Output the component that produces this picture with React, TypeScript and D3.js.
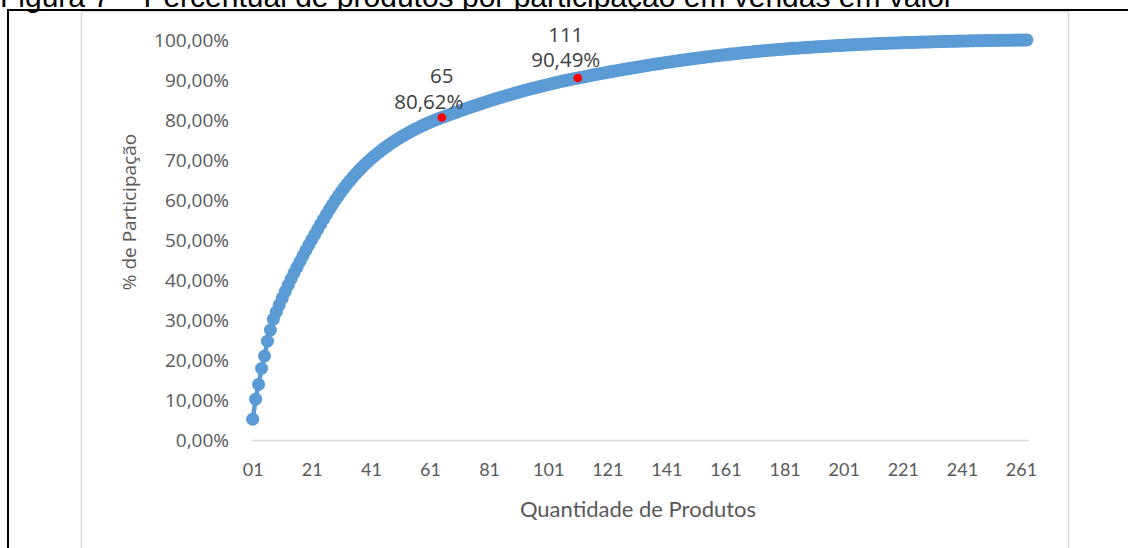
import { useEffect, useRef } from "react";
import * as d3 from "d3";

// cumulative share (%) per product, product 1..263
const participacao: number[] = [
  5.2, 10.2, 13.9, 17.9, 21.0, 24.7, 27.5, 30.2, 32.0, 33.75,
  35.45, 37.1, 38.7, 40.25, 41.75, 43.2, 44.62, 46.02, 47.4, 48.75,
  50.07, 51.38, 52.67, 53.95, 55.21, 56.45, 57.66, 58.84, 59.97, 61.05,
  62.08, 63.07, 64.02, 64.93, 65.8, 66.63, 67.42, 68.18, 68.9, 69.59,
  70.25, 70.89, 71.5, 72.09, 72.66, 73.21, 73.74, 74.25, 74.74, 75.21,
  75.66, 76.1, 76.52, 76.93, 77.33, 77.72, 78.09, 78.45, 78.8, 79.13,
  79.46, 79.77, 80.07, 80.36, 80.62, 80.9, 81.18, 81.45, 81.72, 81.99,
  82.26, 82.52, 82.78, 83.04, 83.29, 83.54, 83.79, 84.04, 84.28, 84.52,
  84.75, 84.99, 85.22, 85.45, 85.67, 85.89, 86.11, 86.33, 86.54, 86.75,
  86.96, 87.17, 87.37, 87.57, 87.76, 87.96, 88.15, 88.33, 88.52, 88.7,
  88.88, 89.05, 89.23, 89.4, 89.57, 89.73, 89.89, 90.05, 90.21, 90.36,
  90.49, 90.64, 90.78, 90.93, 91.07, 91.22, 91.36, 91.5, 91.64, 91.78,
  91.91, 92.05, 92.18, 92.31, 92.45, 92.58, 92.71, 92.83, 92.96, 93.08,
  93.21, 93.33, 93.45, 93.57, 93.69, 93.81, 93.92, 94.04, 94.15, 94.26,
  94.38, 94.49, 94.59, 94.7, 94.81, 94.91, 95.02, 95.12, 95.22, 95.32,
  95.42, 95.51, 95.61, 95.7, 95.79, 95.89, 95.98, 96.07, 96.15, 96.24,
  96.32, 96.41, 96.49, 96.57, 96.65, 96.73, 96.81, 96.88, 96.96, 97.03,
  97.1, 97.17, 97.24, 97.31, 97.37, 97.44, 97.5, 97.56, 97.62, 97.68,
  97.74, 97.8, 97.85, 97.91, 97.96, 98.01, 98.06, 98.11, 98.16, 98.21,
  98.25, 98.3, 98.34, 98.39, 98.43, 98.48, 98.52, 98.56, 98.6, 98.64,
  98.68, 98.72, 98.76, 98.8, 98.84, 98.87, 98.91, 98.94, 98.98, 99.01,
  99.04, 99.07, 99.1, 99.14, 99.16, 99.19, 99.22, 99.25, 99.28, 99.3,
  99.33, 99.35, 99.37, 99.4, 99.42, 99.44, 99.47, 99.49, 99.51, 99.53,
  99.55, 99.57, 99.59, 99.61, 99.63, 99.65, 99.67, 99.69, 99.7, 99.72,
  99.74, 99.75, 99.77, 99.79, 99.8, 99.82, 99.83, 99.84, 99.86, 99.87,
  99.88, 99.89, 99.91, 99.92, 99.93, 99.94, 99.95, 99.96, 99.97, 99.98,
  99.99, 99.99, 100.0,
];

// highlighted points (red) and their labels
const destaqueProduto = [65, 111];
const destaqueValor = [80.62, 90.49];
const destaqueTexto = ["80,62%", "90,49%"];

const xTickValues = [1, 21, 41, 61, 81, 101, 121, 141, 161, 181, 201, 221, 241, 261];
const xTickLabels = ["01", "21", "41", "61", "81", "101", "121", "141", "161", "181", "201", "221", "241", "261"];
const yTickValues = [0, 10, 20, 30, 40, 50, 60, 70, 80, 90, 100];
const yTickLabels = ["0,00%", "10,00%", "20,00%", "30,00%", "40,00%", "50,00%", "60,00%", "70,00%", "80,00%", "90,00%", "100,00%"];

const titulo = "Figura 7 – Percentual de produtos por participação em vendas em valor";

export default function App() {
  const svgRef = useRef<SVGSVGElement | null>(null);

  useEffect(() => {
    if (!svgRef.current) return;
    const width = 1128;
    const height = 548;
    const svg = d3.select(svgRef.current).attr("width", width).attr("height", height);
    svg.selectAll("*").remove();

    const grey = "#595959";
    const blue = "#5B9BD5";

    // caption (cut off at the top) and page frame
    svg.append("text")
      .attr("x", 0)
      .attr("y", 7)
      .attr("font-family", "Liberation Sans, Arial, sans-serif")
      .attr("font-size", 30)
      .attr("fill", "#000")
      .text(titulo);

    svg.append("rect")
      .attr("x", 81.5).attr("y", 11.5)
      .attr("width", 987).attr("height", 560)
      .attr("fill", "#fff")
      .attr("stroke", "#D9D9D9").attr("stroke-width", 1.5);

    svg.append("line").attr("x1", 8).attr("x2", width).attr("y1", 10).attr("y2", 10)
      .attr("stroke", "#000").attr("stroke-width", 2);
    svg.append("line").attr("x1", 8).attr("x2", 8).attr("y1", 9).attr("y2", height)
      .attr("stroke", "#000").attr("stroke-width", 2);

    const n = participacao.length;
    const x = d3.scaleLinear().domain([0.5, n + 0.5]).range([251.2, 1028.4]);
    const y = d3.scaleLinear().domain([0, 100]).range([440, 40]);

    // x axis
    const xAxis = d3.axisBottom(x)
      .tickValues(xTickValues)
      .tickSize(0)
      .tickPadding(0)
      .tickFormat((_d: number, i: number) => xTickLabels[i]);
    const gx = svg.append("g").attr("transform", `translate(0,${y(0)})`).call(xAxis);
    gx.select(".domain").attr("stroke", "#D9D9D9").attr("stroke-width", 1.5);
    gx.selectAll("text")
      .attr("y", 30)
      .attr("dy", "0.35em")
      .attr("fill", grey)
      .attr("font-family", "Lato, sans-serif")
      .attr("font-size", 18);

    // y axis: labels only
    const yAxis = d3.axisLeft(y)
      .tickValues(yTickValues)
      .tickSize(0)
      .tickPadding(0)
      .tickFormat((_d: number, i: number) => yTickLabels[i]);
    const gy = svg.append("g").attr("transform", `translate(229,0)`).call(yAxis);
    gy.select(".domain").remove();
    gy.selectAll("text")
      .attr("fill", grey)
      .attr("font-family", "Open Sans, sans-serif")
      .attr("font-size", 19);

    // axis titles
    svg.append("text")
      .attr("x", 638).attr("y", 509)
      .attr("text-anchor", "middle").attr("dy", "0.35em")
      .attr("fill", grey)
      .attr("font-family", "Lato, sans-serif")
      .attr("font-size", 22)
      .text("Quantidade de Produtos");

    svg.append("text")
      .attr("transform", "translate(129,212) rotate(-90)")
      .attr("text-anchor", "middle").attr("dy", "0.35em")
      .attr("fill", grey)
      .attr("font-family", "Open Sans, sans-serif")
      .attr("font-size", 19)
      .text("% de Participação");

    // series
    const pts = participacao.map((v, i) => ({ p: i + 1, v }));
    const line = d3.line<{ p: number; v: number }>()
      .x((d) => x(d.p))
      .y((d) => y(d.v));

    svg.append("path")
      .datum(pts)
      .attr("fill", "none")
      .attr("stroke", blue)
      .attr("stroke-width", 4.5)
      .attr("stroke-linejoin", "round")
      .attr("d", line);

    svg.append("g")
      .selectAll("circle")
      .data(pts)
      .join("circle")
      .attr("cx", (d) => x(d.p))
      .attr("cy", (d) => y(d.v))
      .attr("r", 6.5)
      .attr("fill", blue);

    // highlighted points
    const labelOffsets = [
      { nx: 0, ny: -42, vx: -13, vy: -16 },
      { nx: -12, ny: -43, vx: -12, vy: -18 },
    ];
    destaqueProduto.forEach((p, i) => {
      const cx = x(p);
      const cy = y(destaqueValor[i]);
      svg.append("circle").attr("cx", cx).attr("cy", cy).attr("r", 4.3).attr("fill", "#FF0000");
      const o = labelOffsets[i];
      svg.append("text")
        .attr("x", cx + o.nx).attr("y", cy + o.ny)
        .attr("text-anchor", "middle").attr("dy", "0.35em")
        .attr("fill", "#404040")
        .attr("font-family", "Open Sans, sans-serif")
        .attr("font-size", 20.5)
        .text(String(p));
      svg.append("text")
        .attr("x", cx + o.vx).attr("y", cy + o.vy)
        .attr("text-anchor", "middle").attr("dy", "0.35em")
        .attr("fill", "#404040")
        .attr("font-family", "Open Sans, sans-serif")
        .attr("font-size", 20.5)
        .text(destaqueTexto[i]);
    });
  }, []);

  return (
    <svg
      ref={svgRef}
      style={{ position: "absolute", left: 0, top: 0, background: "#fff" }}
    ></svg>
  );
}
